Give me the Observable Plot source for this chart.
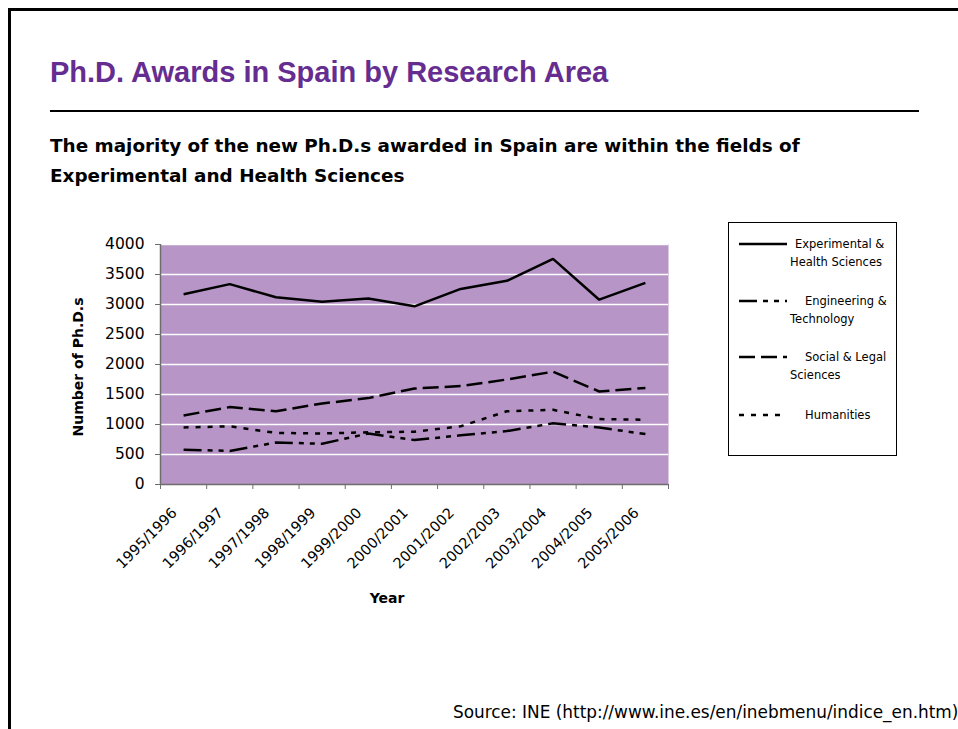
<!DOCTYPE html>
<html>
<head>
<meta charset="utf-8">
<script src="https://cdn.jsdelivr.net/npm/d3@7"></script>
<script src="https://cdn.jsdelivr.net/npm/@observablehq/plot@0.6"></script>
<style>
  html, body { margin: 0; padding: 0; background: #fff; }
  #page { position: relative; width: 958px; height: 729px; overflow: hidden; font-family: "DejaVu Sans", sans-serif; color: #000; }
  #page svg.plot { position: absolute; left: 0; top: 0; }
  .abs { position: absolute; white-space: nowrap; }
  #frame { position: absolute; left: 8px; top: 8px; width: 960px; height: 740px; border-top: 3px solid #000; border-left: 3px solid #000; }
  #title { left: 50px; top: 56px; font-family: "Liberation Sans Narrow", "Liberation Sans", sans-serif; font-weight: bold; font-size: 29px; color: #662d91; }
  #rule { position: absolute; left: 50px; top: 110px; width: 869px; height: 2px; background: #000; }
  #subtitle { left: 50px; top: 131px; font-family: "DejaVu Sans", sans-serif; font-weight: bold; font-size: 18.4px; line-height: 30px; }
  #ylabel { left: 78px; top: 367px; transform: translate(-50%, -50%) rotate(-90deg); font-weight: bold; font-size: 14px; }
  #xlabel { left: 387px; top: 590px; transform: translateX(-50%); font-weight: bold; font-size: 14px; }
  #source { left: 453px; top: 702px; font-family: "DejaVu Sans", sans-serif; font-size: 16.9px; }
  #legend { position: absolute; left: 728px; top: 222px; width: 167px; height: 232px; border: 1px solid #000; }
  .lg { position: absolute; font-size: 11.5px; line-height: 18px; }
</style>
</head>
<body>
<div id="page">
  <div id="frame"></div>
  <div class="abs" id="title">Ph.D. Awards in Spain by Research Area</div>
  <div id="rule"></div>
  <div class="abs" id="subtitle">The majority of the new Ph.D.s awarded in Spain are within the fields of<br>Experimental and Health Sciences</div>
  <div class="abs" id="ylabel">Number of Ph.D.s</div>
  <div class="abs" id="xlabel">Year</div>
  <div class="abs" id="source">Source: INE (http://www.ine.es/en/inebmenu/indice_en.htm)</div>
  <div id="legend"></div>
</div>
<script>
const years = ["1995/1996","1996/1997","1997/1998","1998/1999","1999/2000","2000/2001","2001/2002","2002/2003","2003/2004","2004/2005","2005/2006"];
const experimental = [3170, 3340, 3120, 3045, 3100, 2970, 3260, 3395, 3760, 3080, 3360];
const engineering  = [580, 560, 700, 680, 850, 740, 820, 890, 1020, 950, 840];
const social       = [1150, 1290, 1220, 1350, 1440, 1600, 1640, 1750, 1880, 1550, 1610];
const humanities   = [950, 970, 860, 850, 870, 880, 970, 1220, 1245, 1090, 1080];
const yTicks = [0, 500, 1000, 1500, 2000, 2500, 3000, 3500, 4000];

const seriesNames = ["Experimental & Health Sciences", "Engineering & Technology", "Social & Legal Sciences", "Humanities"];
const seriesValues = [experimental, engineering, social, humanities];
const dashes = [null, "18,6,5,6,5,6", "16,6", "5,7"];
const legendLines = [["Experimental &", "Health Sciences"], ["Engineering &", "Technology"], ["Social & Legal", "Sciences"], ["Humanities"]];

const rows = seriesNames.map((name, s) => seriesValues[s].map((v, i) => ({x: i + 0.5, year: years[i], value: v, series: name})));

const chart = Plot.plot({
  width: 958,
  height: 729,
  marginLeft: 160,
  marginRight: 290,
  marginTop: 244,
  marginBottom: 245,
  style: {background: "transparent", fontFamily: "DejaVu Sans, sans-serif", color: "#000", overflow: "visible"},
  x: {domain: [0, years.length]},
  y: {domain: [0, 4000]},
  marks: [
    Plot.frame({fill: "#b795c6", stroke: null}),
    Plot.gridY({ticks: yTicks.slice(1), stroke: "#ffffff", strokeOpacity: 1, strokeWidth: 1.3}),
    Plot.ruleX([0], {stroke: "#6e6e6e", strokeWidth: 1.5}),
    Plot.ruleY([0], {stroke: "#6e6e6e", strokeWidth: 1.5}),
    Plot.axisY({ticks: yTicks, tickSize: 5, tickPadding: 11, tickFormat: d => String(d), label: null, fontSize: 15.5, stroke: "#6e6e6e"}),
    Plot.axisX({ticks: d3.range(years.length + 1), tickSize: 5, tickFormat: () => "", label: null, stroke: "#6e6e6e"}),
    Plot.axisX({ticks: years.map((_, i) => i + 0.5), tickSize: 0, tickPadding: 26, dx: -9, tickRotate: -45, tickFormat: d => years[Math.floor(d)], label: null, fontSize: 14.5}),
    ...rows.map((data, s) => Plot.line(data, {x: "x", y: "value", stroke: "#000", strokeWidth: 2.5, strokeDasharray: dashes[s], strokeLinecap: "butt", strokeLinejoin: "miter"}))
  ]
});
chart.classList.add("plot");
document.getElementById("page").insertBefore(chart, document.getElementById("frame"));

// legend
const legend = document.getElementById("legend");
const sampleY = [21, 78, 134, 192];
const textX = [66, 76, 76, 76];
legendLines.forEach((lines, s) => {
  const svg = d3.create("svg").attr("width", 50).attr("height", 6)
    .style("position", "absolute").style("left", "10px").style("top", (sampleY[s] - 3) + "px");
  svg.append("line").attr("x1", 0).attr("x2", 48).attr("y1", 3).attr("y2", 3)
    .attr("stroke", "#000").attr("stroke-width", 2.5).attr("stroke-dasharray", dashes[s]);
  legend.appendChild(svg.node());
  lines.forEach((t, k) => {
    const d = document.createElement("div");
    d.className = "lg";
    d.textContent = t;
    d.style.left = (k === 0 ? textX[s] : 61) + "px";
    d.style.top = (sampleY[s] - 9 + k * 18) + "px";
    legend.appendChild(d);
  });
});
</script>
</body>
</html>
